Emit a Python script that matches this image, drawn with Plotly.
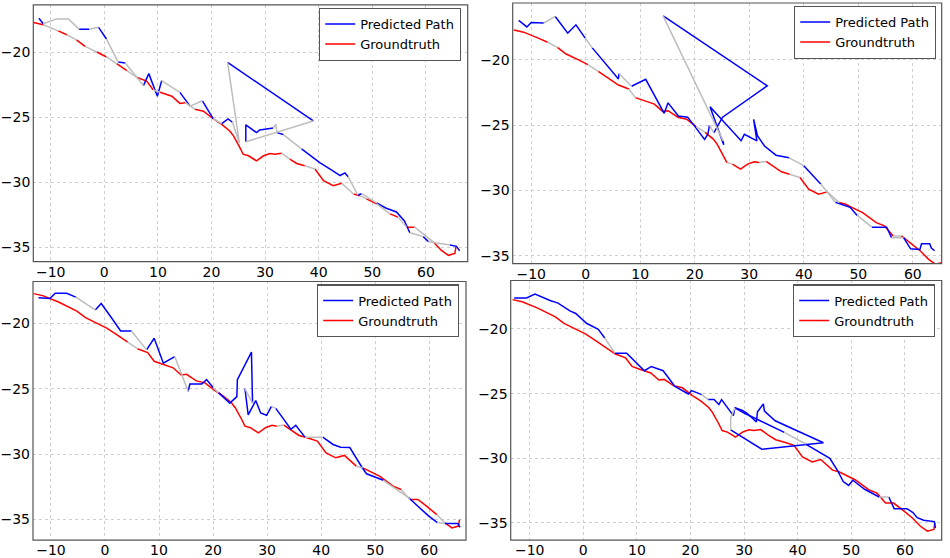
import plotly.graph_objects as go

# ---------------- data ----------------
gt_x = [-13.2, -11.4, -8.6, -7.0, -5.2, -3.6, -1.4, 0.4, 2.3, 4.2, 6.0, 7.9, 9.1, 10.4, 12.6, 14.1,
        15.1, 16.9, 18.5, 20.3, 21.9, 23.4, 24.1, 25.3, 25.9, 26.9, 28.4, 29.7, 30.9, 31.8, 33.1,
        34.6, 35.9, 37.4, 39.3, 40.9, 42.7, 44.3, 46.5, 47.7, 48.9, 50.8, 53.3, 54.8, 56.4, 57.9,
        59.5, 61.4, 62.9, 64.2, 65.4, 65.6]
gt_y = [-17.73, -17.9, -18.37, -18.67, -19.06, -19.57, -20.0, -20.38, -20.9, -21.43, -21.94, -22.24,
        -22.9, -23.1, -23.4, -23.95, -23.9, -24.4, -24.55, -25.13, -25.56, -26.07, -26.45, -27.35,
        -27.86, -27.98, -28.37, -27.98, -27.8, -27.86, -27.78, -28.24, -28.57, -28.75, -29.0, -29.9,
        -30.28, -30.1, -30.92, -31.05, -31.3, -31.68, -32.45, -32.7, -33.47, -33.47, -33.98, -34.62,
        -35.26, -35.64, -35.5, -35.0]

# 1 = segment missing (drawn grey)
gt_gap1 = [0, 1, 0, 1, 0, 1, 0, 1, 0, 1, 0, 0, 1, 0, 0, 0, 1, 0, 0, 0, 0, 0, 0, 0, 0, 0, 0, 0, 0, 0,
           1, 0, 0, 1, 0, 0, 0, 1, 0, 1, 0, 1, 0, 1, 0, 1, 1, 0, 0, 0, 0]
gt_gap2 = [0, 0, 0, 1, 0, 0, 0, 1, 0, 0, 0, 1, 0, 0, 0, 0, 0, 0, 0, 1, 0, 0, 0, 0, 1, 0, 0, 0, 0, 1,
           0, 0, 0, 1, 0, 0, 0, 1, 0, 0, 0, 0, 0, 0, 1, 0, 0, 0, 0, 0, 0]
gt_gap3 = [0, 0, 0, 0, 0, 0, 0, 0, 0, 1, 0, 0, 0, 0, 0, 0, 0, 0, 0, 0, 0, 0, 0, 0, 0, 0, 0, 0, 0, 1,
           0, 0, 0, 0, 0, 0, 0, 0, 1, 0, 0, 0, 0, 1, 0, 0, 0, 1, 0, 0, 0]
gt_gap4 = [0] * 51

pred1_x = [-12.2, -11.4, -8.9, -6.7, -4.7, -2.8, -1.1, 0.4, 2.6, 3.9, 7.3, 8.3, 9.9, 10.7, 14.1, 16.0,
           18.3, 20.3, 21.9, 23.1, 23.9, 25.2, 23.0, 39.0, 26.4, 26.4, 28.4, 29.0, 31.5, 32.0, 32.2,
           33.4, 36.8, 40.2, 42.5, 44.0, 44.9, 45.5, 47.3, 48.0, 50.8, 52.5, 54.5, 56.0, 57.0, 59.5,
           60.5, 64.5, 65.7, 66.3]
pred1_y = [-17.4, -17.83, -17.45, -17.45, -18.24, -18.24, -18.09, -19.0, -20.77, -20.84, -22.58,
           -21.66, -23.4, -22.2, -23.1, -24.16, -23.75, -25.13, -25.5, -25.15, -25.4, -27.0, -20.8,
           -25.3, -26.9, -25.6, -26.2, -26.0, -25.85, -25.55, -26.2, -26.35, -27.45, -28.5, -29.1,
           -29.5, -29.3, -29.6, -31.0, -30.9, -31.6, -32.0, -32.3, -33.0, -33.9, -34.2, -34.6, -34.85,
           -34.95, -35.3]
pred1_gap = [0, 1, 1, 1, 0, 1, 0, 1, 0, 1, 0, 0, 0, 1, 0, 1, 0, 1, 0, 0, 1, 1, 0, 1, 0, 0, 0, 0, 1,
             1, 0, 1, 0, 0, 0, 0, 0, 1, 0, 1, 0, 0, 0, 0, 1, 0, 1, 0, 0]

pred2_x = [-12.3, -10.8, -10.0, -7.7, -5.6, -3.3, -1.8, -0.1, 1.2, 6.0, 6.1, 8.4, 11.0, 14.4, 15.1,
           17.0, 18.7, 20.0, 21.8, 22.4, 22.7, 23.5, 25.1, 33.3, 14.2, 25.2, 25.3, 22.8, 28.5, 29.1,
           31.4, 30.8, 31.5, 32.8, 34.9, 37.3, 40.0, 43.1, 45.8, 48.5, 49.8, 52.5, 55.2, 56.1, 58.3,
           59.6, 61.3, 61.6, 63.1, 63.4, 64.0]
pred2_y = [-17.0, -17.5, -17.16, -17.2, -16.7, -17.97, -17.34, -18.35, -19.1, -21.47, -21.06, -22.03,
           -21.5, -24.1, -23.3, -24.3, -24.4, -25.1, -26.1, -25.7, -25.0, -25.6, -24.4, -22.0, -16.65,
           -26.2, -26.5, -23.6, -26.2, -25.7, -26.2, -24.56, -25.8, -26.6, -27.3, -27.5, -28.1, -29.5,
           -30.9, -31.28, -31.9, -32.8, -32.8, -33.6, -33.6, -34.45, -34.5, -34.07, -34.07, -34.4,
           -34.6]
pred2_gap = [0, 0, 0, 1, 0, 0, 0, 1, 0, 0, 1, 0, 0, 0, 0, 0, 0, 0, 0, 0, 1, 0, 0, 0, 1, 0, 0, 0, 0,
             0, 0, 0, 0, 0, 0, 1, 0, 1, 0, 0, 1, 0, 0, 1, 0, 0, 0, 0, 0, 0]

pred3_x = [-12.3, -10.2, -9.2, -7.1, -5.4, -1.8, -0.7, 1.2, 2.9, 4.9, 7.7, 9.1, 10.8, 12.9, 15.4, 15.7,
           17.9, 18.8, 20.0, 21.0, 23.1, 24.4, 24.5, 27.1, 27.3, 25.9, 26.5, 27.9, 28.8, 29.9, 30.8,
           31.6, 34.4, 35.3, 37.0, 40.3, 42.2, 43.6, 45.3, 47.6, 48.4, 51.5, 53.3, 56.1, 58.1, 59.8,
           61.5, 62.9, 65.3, 65.7]
pred3_y = [-18.05, -18.1, -17.7, -17.7, -18.0, -18.98, -18.48, -19.57, -20.58, -20.58, -22.03, -21.14,
           -23.05, -22.54, -25.2, -24.64, -24.64, -24.3, -24.9, -25.3, -26.1, -25.6, -24.3, -22.2,
           -26.1, -25.0, -27.0, -25.9, -26.85, -27.03, -26.35, -26.5, -28.1, -27.8, -28.7, -28.7,
           -29.26, -29.47, -29.5, -31.04, -31.5, -32.0, -32.5, -33.3, -34.09, -34.7, -35.23, -35.3,
           -35.3, -35.6]
pred3_gap = [0, 0, 0, 0, 1, 0, 0, 0, 0, 1, 0, 0, 0, 1, 0, 0, 0, 0, 1, 0, 0, 0, 0, 0, 1, 0, 0, 0, 0,
             0, 1, 0, 0, 0, 1, 0, 0, 0, 0, 0, 0, 1, 1, 0, 0, 0, 1, 0, 0]

pred4_x = [-12.9, -10.6, -9.0, -6.2, -4.7, -2.5, -1.4, 0.6, 2.8, 4.0, 5.9, 8.1, 11.4, 12.7, 14.9, 15.9,
           17.1, 19.6, 20.2, 22.1, 23.3, 24.4, 25.3, 25.8, 28.0, 28.3, 29.7, 30.5, 32.3, 32.5, 33.6,
           33.8, 35.8, 44.8, 33.3, 27.5, 27.5, 28.3, 30.0, 37.5, 41.5, 44.5, 46.0, 47.5, 48.5, 49.5,
           50.3, 52.5, 55.2, 57.0, 58.0, 60.4, 61.5, 62.3, 63.5, 65.5, 65.7]
pred4_y = [-17.6, -17.6, -17.3, -17.8, -18.0, -18.6, -18.8, -19.56, -20.03, -20.7, -21.87, -21.87,
           -23.23, -22.9, -23.23, -23.8, -24.44, -25.03, -24.77, -25.08, -25.46, -25.46, -25.85,
           -25.46, -26.7, -26.1, -26.3, -26.5, -27.2, -26.4, -25.8, -26.36, -27.1, -28.8, -29.3,
           -27.8, -26.9, -26.1, -26.5, -28.0, -28.9, -29.6, -30.0, -31.0, -31.8, -32.1, -31.7, -32.4,
           -33.0, -33.0, -33.9, -33.9, -34.2, -34.6, -34.8, -34.9, -35.4]
pred4_gap = [0, 0, 0, 0, 0, 0, 0, 0, 0, 1, 0, 0, 0, 0, 0, 0, 0, 0, 0, 1, 0, 0, 0, 0, 0, 0, 0, 0, 0,
             0, 0, 0, 0, 0, 0, 1, 1, 0, 0, 1, 0, 0, 0, 0, 0, 0, 0, 0, 1, 0, 0, 0, 0, 0, 0, 0]

x_ticks = [-10, 0, 10, 20, 30, 40, 50, 60]
y_ticks = [-20, -25, -30, -35]
legend_names = ["Predicted Path", "Groundtruth"]

# ---------------- layout geometry (pixels) ----------------
W, H = 950, 558
panels = [
    dict(px=(33.3, 467.7), py=(5, 263), xr=(-13.25, 67.8), yr=(-36.12, -16.38),
         leg=(461, 8), pred=(pred1_x, pred1_y, pred1_gap), gtg=gt_gap1),
    dict(px=(512.7, 941.7), py=(3, 265), xr=(-13.4, 65.3), yr=(-35.58, -15.67),
         leg=(936, 6), pred=(pred2_x, pred2_y, pred2_gap), gtg=gt_gap2),
    dict(px=(33.0, 466.0), py=(283, 543), xr=(-13.32, 66.8), yr=(-36.57, -16.8),
         leg=(459, 286), pred=(pred3_x, pred3_y, pred3_gap), gtg=gt_gap3),
    dict(px=(510.7, 941.7), py=(282, 543), xr=(-13.54, 66.87), yr=(-36.33, -16.25),
         leg=(935, 286), pred=(pred4_x, pred4_y, pred4_gap), gtg=gt_gap4),
]


def split_path(xs, ys, gaps):
    cx, cy, gx, gy = [], [], [], []
    last_c, last_g = None, None
    for i in range(len(xs) - 1):
        if gaps[i]:
            if last_g != i:
                if gx:
                    gx.append(None); gy.append(None)
                gx.append(xs[i]); gy.append(ys[i])
            gx.append(xs[i + 1]); gy.append(ys[i + 1])
            last_g = i + 1
        else:
            if last_c != i:
                if cx:
                    cx.append(None); cy.append(None)
                cx.append(xs[i]); cy.append(ys[i])
            cx.append(xs[i + 1]); cy.append(ys[i + 1])
            last_c = i + 1
    return cx, cy, gx, gy


BLUE, RED, GREY = "#0000ff", "#ff0000", "#bdbdbd"
GRID = "#cfcfcf"
FRAME = "#555555"
fig = go.Figure()
layout = dict(width=W, height=H, margin=dict(l=0, r=0, t=0, b=0),
              paper_bgcolor="white", plot_bgcolor="white", showlegend=True,
              font=dict(family="DejaVu Sans", size=14, color="black"))
shapes = []

for k, p in enumerate(panels):
    n = "" if k == 0 else str(k + 1)
    xa, ya = "x" + n, "y" + n
    leg = "legend" + n
    px0, px1 = p["px"]; py0, py1 = p["py"]
    layout["xaxis" + n] = dict(domain=[px0 / W, px1 / W], range=list(p["xr"]), anchor=ya,
                               tickvals=x_ticks, showgrid=True, gridcolor=GRID, griddash="dot",
                               gridwidth=1, zeroline=False, showline=False, ticks="",
                               tickfont=dict(size=14, family="DejaVu Sans"))
    layout["yaxis" + n] = dict(domain=[1 - py1 / H, 1 - py0 / H], range=list(p["yr"]), anchor=xa,
                               tickvals=y_ticks, showgrid=True, gridcolor=GRID, griddash="dot",
                               gridwidth=1, zeroline=False, showline=False, ticks="",
                               ticklabelstandoff=2,
                               tickfont=dict(size=14, family="DejaVu Sans"))
    shapes.append(dict(type="rect", xref=xa + " domain", yref=ya + " domain",
                       x0=0, x1=1, y0=0, y1=1, line=dict(color=FRAME, width=1.2),
                       fillcolor="rgba(0,0,0,0)", layer="above"))
    lx, ly = p["leg"]
    layout[leg] = dict(x=lx / W, y=1 - ly / H, xanchor="right", yanchor="top",
                       bgcolor="white", bordercolor=FRAME, borderwidth=1.2,
                       font=dict(size=13, family="DejaVu Sans"), tracegroupgap=0,
                       itemwidth=30)

    px_, py_, pg_ = p["pred"]
    bx, by, bgx, bgy = split_path(px_, py_, pg_)
    rx, ry, rgx, rgy = split_path(gt_x, gt_y, p["gtg"])
    fig.add_trace(go.Scatter(x=rx, y=ry, mode="lines", line=dict(color=RED, width=1.5),
                             xaxis=xa, yaxis=ya, showlegend=False, hoverinfo="skip"))
    fig.add_trace(go.Scatter(x=bx, y=by, mode="lines", line=dict(color=BLUE, width=1.5),
                             xaxis=xa, yaxis=ya, showlegend=False, hoverinfo="skip"))
    fig.add_trace(go.Scatter(x=rgx, y=rgy, mode="lines", line=dict(color=GREY, width=1.5),
                             xaxis=xa, yaxis=ya, showlegend=False, hoverinfo="skip"))
    fig.add_trace(go.Scatter(x=bgx, y=bgy, mode="lines", line=dict(color=GREY, width=1.5),
                             xaxis=xa, yaxis=ya, showlegend=False, hoverinfo="skip"))
    fig.add_trace(go.Scatter(x=[None], y=[None], mode="lines", name=legend_names[0],
                             line=dict(color=BLUE, width=1.5), xaxis=xa, yaxis=ya, legend=leg))
    fig.add_trace(go.Scatter(x=[None], y=[None], mode="lines", name=legend_names[1],
                             line=dict(color=RED, width=1.5), xaxis=xa, yaxis=ya, legend=leg))

layout["shapes"] = shapes
fig.update_layout(**layout)
# the page body gets no default margin, so the figure fills the 950x558 window exactly
fig.write_html("out.html", config={"displayModeBar": False},
               post_script="document.body.style.margin='0px';")
